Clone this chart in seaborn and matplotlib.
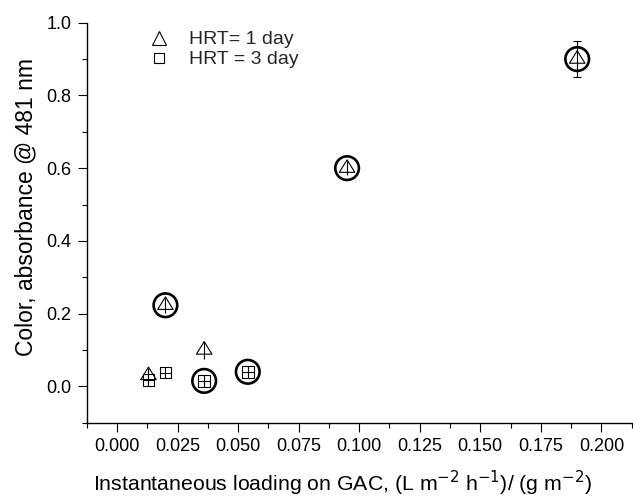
import matplotlib
matplotlib.use("Agg")
import numpy as np
import pandas as pd
import seaborn as sns
import matplotlib.pyplot as plt
from matplotlib.path import Path
from matplotlib.lines import Line2D
from matplotlib.ticker import MultipleLocator, FormatStrFormatter

sns.set_theme(style="ticks")
plt.rcParams['font.family'] = ['Liberation Sans', 'DejaVu Sans']

# ---- data ----
hrt1_x = [0.013, 0.020, 0.036, 0.095, 0.190]
hrt1_y = [0.030, 0.223, 0.100, 0.600, 0.900]
hrt1_err = [0.020, 0.020, 0.024, 0.020, 0.049]
hrt3_x = [0.013, 0.020, 0.036, 0.054]
hrt3_y = [0.018, 0.038, 0.015, 0.040]
circled_x = [0.020, 0.095, 0.190, 0.036, 0.054]
circled_y = [0.223, 0.600, 0.900, 0.015, 0.040]
x_ticks = [0.000, 0.025, 0.050, 0.075, 0.100, 0.125, 0.150, 0.175, 0.200]
y_ticks = [0.0, 0.2, 0.4, 0.6, 0.8, 1.0]
legend_labels = ["HRT= 1 day", "HRT = 3 day"]

df1 = pd.DataFrame({"x": hrt1_x, "y": hrt1_y, "err": hrt1_err})
df3 = pd.DataFrame({"x": hrt3_x, "y": hrt3_y})
dfc = pd.DataFrame({"x": circled_x, "y": circled_y})

# triangle marker centred on its centroid
tri = Path([(0, 2/3), (-0.62, -1/3), (0.62, -1/3), (0, 2/3)],
           [Path.MOVETO, Path.LINETO, Path.LINETO, Path.CLOSEPOLY])

fig = plt.figure(figsize=(6.33, 5.0), dpi=100)
ax = fig.add_axes([86.7/633, 1 - 422.7/500, (631.7 - 86.7)/633, (422.7 - 22.7)/500])

# error bars
small = df1[df1["err"] < 0.04]
big = df1[df1["err"] >= 0.04]
ax.errorbar(small["x"], small["y"], yerr=small["err"], fmt="none",
            ecolor="black", elinewidth=0.8, capsize=0, zorder=2)
ax.errorbar(big["x"], big["y"], yerr=big["err"], fmt="none",
            ecolor="black", elinewidth=0.8, capsize=3.2, capthick=0.8, zorder=2)

n0 = len(ax.collections)
sns.scatterplot(data=df1, x="x", y="y", marker=tri, s=144, linewidth=0.8, ax=ax, zorder=3)
sns.scatterplot(data=df3, x="x", y="y", marker="s", s=70, linewidth=0.8, ax=ax, zorder=3)
sns.scatterplot(data=df3, x="x", y="y", marker="+", s=70, linewidth=0.8, ax=ax, zorder=3)
sns.scatterplot(data=dfc, x="x", y="y", marker="o", s=289, linewidth=1.9, ax=ax, zorder=4)
for c in ax.collections[n0:]:
    c.set_facecolor("none")
    c.set_edgecolor("black")

ax.set_xlim(-0.0125, 0.2125)
ax.set_ylim(-0.1, 1.0)
ax.set_xticks(x_ticks)
ax.set_yticks(y_ticks)
ax.xaxis.set_minor_locator(MultipleLocator(0.0125))
ax.yaxis.set_minor_locator(MultipleLocator(0.1))
ax.xaxis.set_major_formatter(FormatStrFormatter("%.3f"))
ax.yaxis.set_major_formatter(FormatStrFormatter("%.1f"))
ax.tick_params(which="major", direction="out", length=6.5, width=0.8, labelsize=13,
               colors="black", pad=4.5)
ax.tick_params(which="minor", direction="out", length=3.5, width=0.8, colors="black")
for s in ["top", "right"]:
    ax.spines[s].set_visible(False)
for s in ["left", "bottom"]:
    ax.spines[s].set_linewidth(1.0)
    ax.spines[s].set_color("black")

ax.set_xlabel(r"Instantaneous loading on GAC, (L m$^{-2}$ h$^{-1}$)/ (g m$^{-2}$)",
              fontsize=15.3, color="black")
ax.xaxis.set_label_coords(0.47, -0.115)
ax.set_ylabel("Color, absorbance @ 481 nm", fontsize=16.5, color="black")
ax.yaxis.set_label_coords(-0.091, 0.539)

handles = [Line2D([], [], marker="^", linestyle="none", markersize=10.5,
                  markerfacecolor="none", markeredgecolor="black", markeredgewidth=0.8),
           Line2D([], [], marker="s", linestyle="none", markersize=7.8,
                  markerfacecolor="none", markeredgecolor="black", markeredgewidth=0.8)]
ax.legend(handles, legend_labels, loc="upper left", bbox_to_anchor=(138/633, 1 - 21/500),
          bbox_transform=fig.transFigure, frameon=False, fontsize=14,
          handlelength=1.2, handletextpad=0.9, labelspacing=0.13, borderpad=0)

fig.savefig("out.png", dpi=100)
